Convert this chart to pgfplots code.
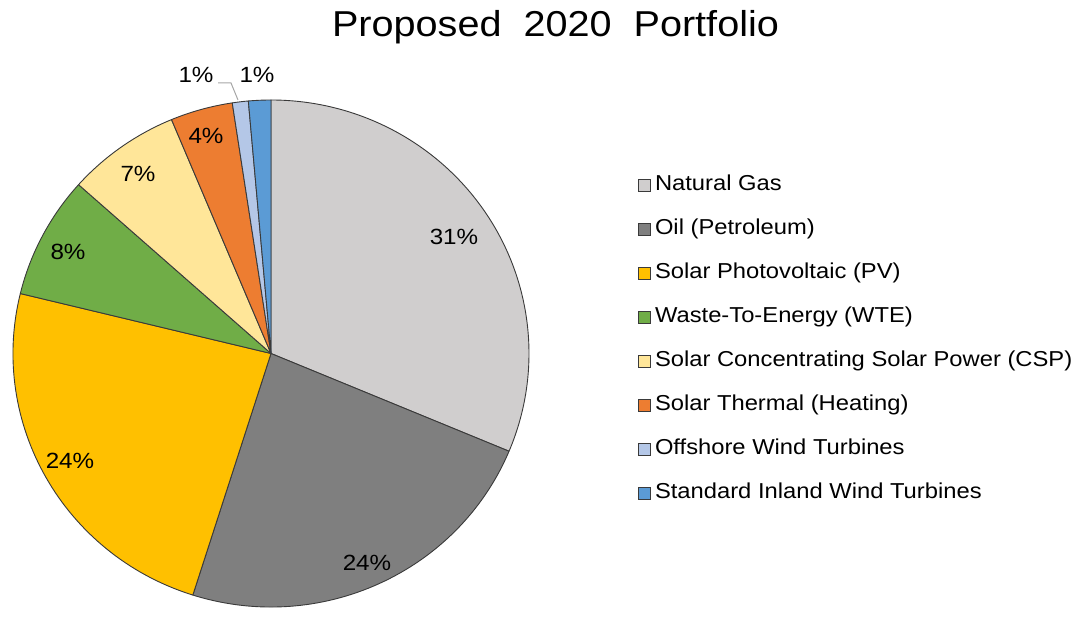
\documentclass[border=0pt]{standalone}
\usepackage{fontspec}
\setmainfont{Liberation Sans}[FakeStretch=1.1]
\usepackage{pgfplots}
\usepackage{pgfplotstable}
\pgfplotsset{compat=1.18}

\definecolor{cNG}{HTML}{D0CECE}
\definecolor{cOil}{HTML}{7F7F7F}
\definecolor{cPV}{HTML}{FFC000}
\definecolor{cWTE}{HTML}{70AD47}
\definecolor{cCSP}{HTML}{FFE699}
\definecolor{cTH}{HTML}{ED7D31}
\definecolor{cOFF}{HTML}{B4C7E7}
\definecolor{cIN}{HTML}{5B9BD5}
\definecolor{edge}{HTML}{3A3A3A}
\definecolor{leader}{HTML}{A6A6A6}

% share of each source, clockwise from 12 o'clock
\pgfplotstableread{
val  col
31.3 cNG
23.6 cOil
23.9 cPV
7.8  cWTE
7.1  cCSP
3.9  cTH
1.0  cOFF
1.4  cIN
}\pietable

\begin{document}
\begin{tikzpicture}
\begin{axis}[
    x=1pt, y=1pt,
    xmin=0, xmax=1073, ymin=0, ymax=617,
    hide axis, clip=false,
    legend image code/.code={\draw[#1, line width=0.8pt] (0pt,-6pt) rectangle (12pt,6pt);},
    legend cell align=left,
    legend style={at={(axis cs:638,442)}, anchor=north west, draw=none, fill=none,
        inner sep=0pt, row sep=24.1pt, column sep=4pt,
        font=\fontsize{21.6}{25}\selectfont,
        nodes={inner sep=0pt, text height=15pt, text depth=5pt}},
]
\coordinate (bl) at (rel axis cs:0,0);%
\coordinate (tr) at (rel axis cs:1,1);%
\def\acc{90}%
\pgfplotsforeachungrouped \i in {0,...,7}{%
    \pgfplotstablegetelem{\i}{val}\of\pietable \let\v\pgfplotsretval%
    \pgfplotstablegetelem{\i}{col}\of\pietable \let\c\pgfplotsretval%
    \pgfmathsetmacro\endang{\acc-3.6*\v}%
    \edef\tmp{\noexpand\filldraw[fill=\c, draw=edge, line width=0.9pt, line join=round]
        (axis cs:271,263.5) -- ++(\acc:258pt and 253.5pt)
        arc[start angle=\acc, end angle=\endang, x radius=258pt, y radius=253.5pt] -- cycle;}%
    \tmp%
    \global\let\acc\endang%
}%
\draw[leader, line width=1pt] (axis cs:218,534) -- (axis cs:231,534) -- (axis cs:238,517);

\node[anchor=base, font=\fontsize{36}{40}\selectfont] at (axis cs:555.5,580) {Proposed\ \ 2020\ \ Portfolio};

\begin{scope}[every node/.style={anchor=base, font=\fontsize{22}{26}\selectfont}]
\node at (axis cs:454,372) {31\%};
\node at (axis cs:367,46) {24\%};
\node at (axis cs:70,148) {24\%};
\node at (axis cs:68,357) {8\%};
\node at (axis cs:138,435) {7\%};
\node at (axis cs:206,473) {4\%};
\node at (axis cs:196,534) {1\%};
\node at (axis cs:257,534) {1\%};
\end{scope}

\addlegendimage{fill=cNG, draw=edge}\addlegendentry{Natural Gas}
\addlegendimage{fill=cOil, draw=edge}\addlegendentry{Oil (Petroleum)}
\addlegendimage{fill=cPV, draw=edge}\addlegendentry{Solar Photovoltaic (PV)}
\addlegendimage{fill=cWTE, draw=edge}\addlegendentry{Waste-To-Energy (WTE)}
\addlegendimage{fill=cCSP, draw=edge}\addlegendentry{Solar Concentrating Solar Power (CSP)}
\addlegendimage{fill=cTH, draw=edge}\addlegendentry{Solar Thermal (Heating)}
\addlegendimage{fill=cOFF, draw=edge}\addlegendentry{Offshore Wind Turbines}
\addlegendimage{fill=cIN, draw=edge}\addlegendentry{Standard Inland Wind Turbines}
\end{axis}
\pgfresetboundingbox
\path (bl) rectangle (tr);
\end{tikzpicture}
\end{document}
